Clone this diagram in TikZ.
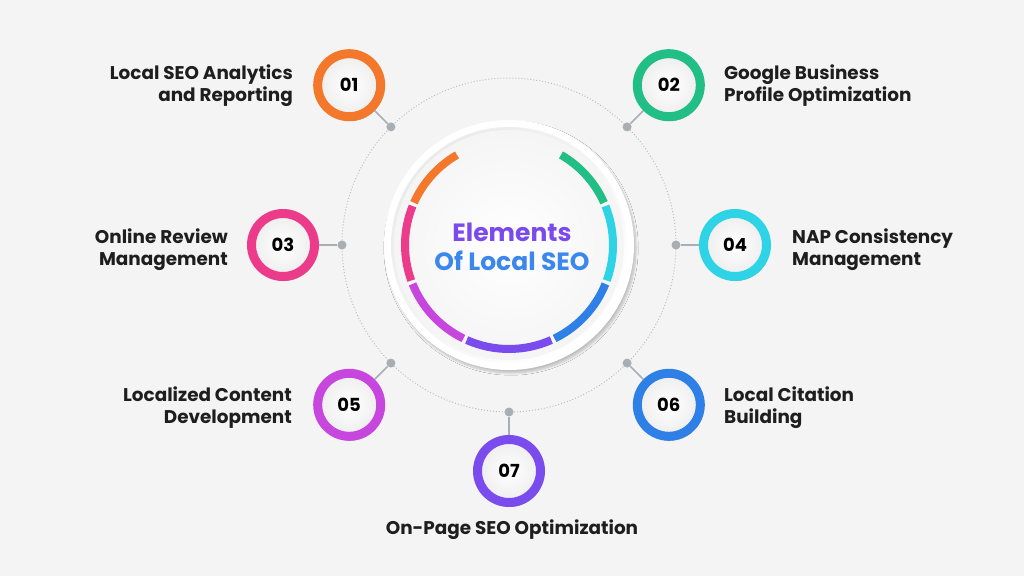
\documentclass[tikz,border=0pt]{standalone}
\usepackage{fontspec}
\setmainfont{Poppins}
\usetikzlibrary{shadows.blur}
\definecolor{bg}{HTML}{F4F4F4}
\definecolor{cOne}{HTML}{F3782B}
\definecolor{cTwo}{HTML}{21BE86}
\definecolor{cThree}{HTML}{EC3B8A}
\definecolor{cFour}{HTML}{2ED3E6}
\definecolor{cFive}{HTML}{C746DE}
\definecolor{cSix}{HTML}{2E7FE6}
\definecolor{cSeven}{HTML}{7A4CEE}
\definecolor{ttlA}{HTML}{7B4AEC}
\definecolor{ttlB}{HTML}{3B87EE}
\definecolor{grayc}{HTML}{A9AEB3}
\definecolor{txt}{HTML}{1E1E1E}
\tikzset{
  badge/.style={circle, minimum size=63pt, inner sep=0pt, line width=9pt, draw=#1,
    inner color=white, outer color=black!7, blur shadow={shadow blur steps=6, shadow xshift=1pt, shadow yshift=-2pt, shadow opacity=25},
    font=\fontsize{18}{18}\selectfont\bfseries, text=black},
  dotn/.style={circle, fill=grayc, minimum size=9pt, inner sep=0pt},
  conn/.style={draw=grayc, line width=1.6pt},
  lbl/.style={align=#1, font=\fontsize{18.4}{22}\selectfont\bfseries, text=txt, inner sep=0pt},
  seg/.style={line width=8pt, draw=#1}
}
\begin{document}
\begin{tikzpicture}[x=1pt,y=1pt]
\fill[bg] (0,0) rectangle (1024,576);
\useasboundingbox (0,0) rectangle (1024,576);
\coordinate (C) at (509,331);
% dotted guide circle
\draw[grayc!80, dotted, line width=1pt] (C) circle (167pt);
% centre disk
\node[circle, minimum size=250pt, inner sep=0pt, fill=white,
  blur shadow={shadow blur steps=10, shadow xshift=2pt, shadow yshift=-3pt, shadow opacity=22}] (main) at (C) {};
\node[circle, minimum size=236pt, inner sep=0pt, left color=black!8, right color=white, shading angle=45] (inner) at (C) {};
\node[circle, minimum size=230pt, inner sep=0pt, inner color=white, outer color=white!96!black] (core) at (C) {};
% coloured ring segments
\draw[seg=cOne]   ([shift={(120:104pt)}]C) arc[start angle=120, end angle=156, radius=104pt];
\draw[seg=cThree] ([shift={(158:104pt)}]C) arc[start angle=158, end angle=200, radius=104pt];
\draw[seg=cFive]  ([shift={(202:104pt)}]C) arc[start angle=202, end angle=244, radius=104pt];
\draw[seg=cSeven] ([shift={(246:104pt)}]C) arc[start angle=246, end angle=294, radius=104pt];
\draw[seg=cSix]   ([shift={(296:104pt)}]C) arc[start angle=296, end angle=338, radius=104pt];
\draw[seg=cFour]  ([shift={(340:104pt)}]C) arc[start angle=340, end angle=382, radius=104pt];
\draw[seg=cTwo]   ([shift={(24:104pt)}]C) arc[start angle=24, end angle=60, radius=104pt];
\node[align=center, font=\fontsize{25}{29}\selectfont\bfseries] (title) at ([shift={(3pt,-2pt)}]C) {\textcolor{ttlA}{Elements}\\\textcolor{ttlB}{Of Local SEO}};
% dots
\node[dotn] (d1) at ([shift={(135:167pt)}]C) {};
\node[dotn] (d2) at ([shift={(45:167pt)}]C) {};
\node[dotn] (d3) at ([shift={(180:167pt)}]C) {};
\node[dotn] (d4) at ([shift={(0:167pt)}]C) {};
\node[dotn] (d5) at ([shift={(225:167pt)}]C) {};
\node[dotn] (d6) at ([shift={(315:167pt)}]C) {};
\node[dotn] (d7) at ([shift={(270:167pt)}]C) {};
% badges
\node[badge=cOne]   (b1) at ([shift={(135:226pt)}]C) {01};
\node[badge=cTwo]   (b2) at ([shift={(45:226pt)}]C) {02};
\node[badge=cThree] (b3) at ([shift={(180:226pt)}]C) {03};
\node[badge=cFour]  (b4) at ([shift={(0:226pt)}]C) {04};
\node[badge=cFive]  (b5) at ([shift={(225:226pt)}]C) {05};
\node[badge=cSix]   (b6) at ([shift={(315:226pt)}]C) {06};
\node[badge=cSeven] (b7) at ([shift={(270:226pt)}]C) {07};
% connectors
\foreach \i in {1,...,7} { \draw[conn] (d\i) -- (b\i); }
% labels
\node[lbl=right, anchor=east] (t1) at (293,490) {Local SEO Analytics\\and Reporting};
\node[lbl=left, anchor=west]  (t2) at (724,490) {Google Business\\Profile Optimization};
\node[lbl=right, anchor=east] (t3) at (228,326) {Online Review\\Management};
\node[lbl=left, anchor=west]  (t4) at (792,326) {NAP Consistency\\Management};
\node[lbl=right, anchor=east] (t5) at (292,168) {Localized Content\\Development};
\node[lbl=left, anchor=west]  (t6) at (724,168) {Local Citation\\Building};
\node[lbl=center] (t7) at (512,46) {On-Page SEO Optimization};
\end{tikzpicture}
\end{document}
